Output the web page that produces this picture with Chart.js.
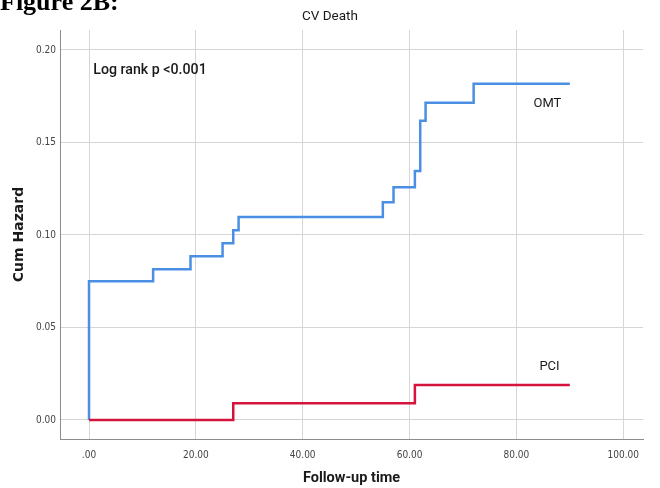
<!DOCTYPE html>
<html>
<head>
<meta charset="utf-8">
<script src="https://cdn.jsdelivr.net/npm/chart.js@4/dist/chart.umd.min.js"></script>
<style>
  html, body { margin: 0; padding: 0; background: #ffffff; }
  #wrap { position: relative; width: 660px; height: 488px; overflow: hidden; }
  #fig { position: absolute; left: 0; top: -11px; font: bold 26px "Liberation Serif", "Times New Roman", serif; line-height: 1; color: #000; white-space: nowrap; }
</style>
</head>
<body>
<div id="wrap">
  <canvas id="c" width="660" height="488"></canvas>
  <div id="fig">Figure 2B:</div>
</div>
<script>
// ---- data ----
const omtTimes  = [0, 0, 12, 19, 25, 27, 28, 55, 57, 61, 62, 63, 72, 90];
const omtHazard = [0, 0.075, 0.0815, 0.0885, 0.0955, 0.1025, 0.1097, 0.1177, 0.1258, 0.1346, 0.1618, 0.1715, 0.1817, 0.1817];
const pciTimes  = [0, 27, 61, 90];
const pciHazard = [0, 0.009, 0.0189, 0.0189];
const xTickValues = [0, 20, 40, 60, 80, 100];
const yTickValues = [0, 0.05, 0.10, 0.15, 0.20];
const seriesNames = ['OMT', 'PCI'];
const chartTitle = 'CV Death';
const annotationText = 'Log rank p <0.001';
const xTitle = 'Follow-up time';
const yTitle = 'Cum Hazard';

const narrow = '"DejaVu Sans Condensed", "Liberation Sans", sans-serif';
const labelFont = 'Roboto, "DejaVu Sans Condensed", sans-serif';

const toPts = (xs, ys) => xs.map((x, i) => ({ x: x, y: ys[i] }));

const textPlugin = {
  id: 'texts',
  afterDraw(chart) {
    const ctx = chart.ctx;
    const xs = chart.scales.x, ys = chart.scales.y;
    ctx.save();
    ctx.fillStyle = '#1a1a1a';
    ctx.textBaseline = 'middle';
    // chart title
    ctx.font = '13.5px ' + labelFont;
    ctx.textAlign = 'center';
    ctx.fillText(chartTitle, chart.width / 2, 17);
    // log rank annotation
    ctx.font = '500 14.2px ' + labelFont;
    ctx.textAlign = 'left';
    ctx.fillText(annotationText, xs.getPixelForValue(0.8), ys.getPixelForValue(0.189));
    // series labels
    ctx.font = '13px ' + labelFont;
    ctx.textAlign = 'center';
    ctx.fillText(seriesNames[0], xs.getPixelForValue(85.8), ys.getPixelForValue(0.171));
    ctx.fillText(seriesNames[1], xs.getPixelForValue(86.2), ys.getPixelForValue(0.029));
    ctx.restore();
  }
};

new Chart(document.getElementById('c'), {
  type: 'line',
  data: {
    datasets: [
      {
        label: seriesNames[1],
        data: toPts(pciTimes, pciHazard),
        borderColor: '#d5143d',
        borderWidth: 2.5,
        pointRadius: 0,
        stepped: 'before',
        fill: false,
        order: 0
      },
      {
        label: seriesNames[0],
        data: toPts(omtTimes, omtHazard),
        borderColor: '#4a8fe3',
        borderWidth: 2.5,
        pointRadius: 0,
        stepped: 'before',
        fill: false,
        order: 1
      }
    ]
  },
  plugins: [textPlugin],
  options: {
    responsive: false,
    animation: false,
    events: [],
    layout: { padding: { top: 30, right: 17, left: 0, bottom: 0 } },
    plugins: {
      legend: { display: false },
      title: { display: false },
      tooltip: { enabled: false }
    },
    scales: {
      x: {
        type: 'linear',
        min: -5.43,
        max: 103.7,
        afterBuildTicks: (s) => { s.ticks = xTickValues.map(v => ({ value: v })); },
        afterFit: (s) => { s.height = 49; },
        grid: { color: '#d6d6d6', lineWidth: 1, drawTicks: false },
        border: { color: '#8c8c8c', width: 1 },
        ticks: {
          padding: 10,
          color: '#444',
          font: { family: narrow, size: 10 },
          maxRotation: 0,
          callback: (v) => v === 0 ? '.00' : Number(v).toFixed(2)
        },
        title: {
          display: true,
          text: xTitle,
          color: '#1a1a1a',
          font: { family: labelFont, size: 14.5, weight: 'bold' },
          padding: { top: 0, bottom: 1 }
        }
      },
      y: {
        type: 'linear',
        min: -0.0103,
        max: 0.2108,
        afterBuildTicks: (s) => { s.ticks = yTickValues.map(v => ({ value: v })); },
        afterFit: (s) => { s.width = 60; },
        grid: { color: '#d6d6d6', lineWidth: 1, drawTicks: false },
        border: { color: '#8c8c8c', width: 1 },
        ticks: {
          padding: 4,
          color: '#444',
          font: { family: narrow, size: 10 },
          callback: (v) => Number(v).toFixed(2)
        },
        title: {
          display: true,
          text: yTitle,
          color: '#1a1a1a',
          font: { family: '"DejaVu Sans", sans-serif', size: 14, weight: 'bold' },
          padding: { top: 11, bottom: 0 }
        }
      }
    }
  }
});
</script>
</body>
</html>
